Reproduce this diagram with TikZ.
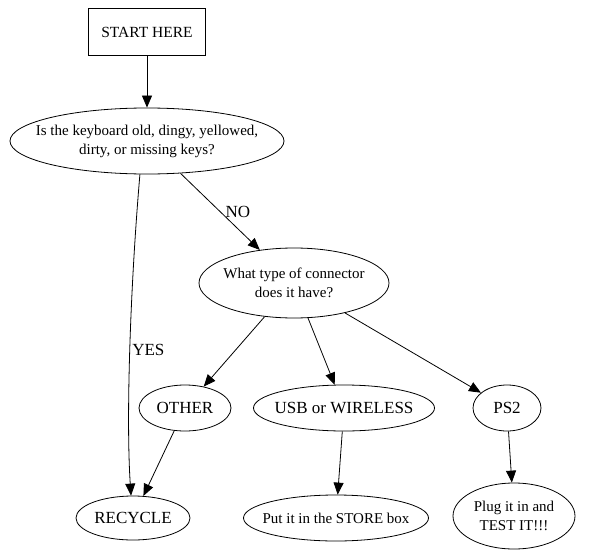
\documentclass[tikz,border=0pt]{standalone}
\usepackage{fontspec}
\setmainfont{Liberation Serif}
\usetikzlibrary{shapes.geometric,arrows.meta}

\begin{document}
\begin{tikzpicture}[
  x=1pt,y=-1pt,
  startbox/.style={rectangle,draw,inner sep=0pt,font=\fontsize{15.5}{19}\selectfont},
  question/.style={ellipse,draw,inner xsep=-200pt,inner ysep=0pt,align=center,font=\fontsize{15}{19}\selectfont},
  choice/.style={ellipse,draw,inner xsep=-200pt,inner ysep=0pt,align=center,font=\fontsize{17}{20}\selectfont},
  arr/.style={-{Triangle[length=12pt,width=10pt]},line width=0.8pt},
  edgelabel/.style={font=\fontsize{17}{20}\selectfont,inner sep=2pt},
  every path/.style={line width=0.8pt},
]
\useasboundingbox (0,0) rectangle (599,559);

% === top: start and first question ===
\node[startbox,minimum width=117pt,minimum height=47pt] (start) at (147,32) {START HERE};
\node[question,minimum width=274pt,minimum height=66pt] (old) at (147,141)
  {Is the keyboard old, dingy, yellowed,\\dirty, or missing keys?};

% === middle: connector question ===
\node[question,minimum width=190pt,minimum height=70pt] (conn) at (294,283)
  {What type of connector\\does it have?};

% Connector kinds
\node[choice,minimum width=92pt,minimum height=46pt] (other) at (185,408) {OTHER};
\node[choice,minimum width=181pt,minimum height=46pt] (usb) at (344,408) {USB or WIRELESS};
\node[choice,minimum width=68pt,minimum height=46pt] (ps2) at (507,408) {PS2};

% === bottom: what to do ===
\node[choice,minimum width=114pt,minimum height=44pt] (recycle) at (133,518) {RECYCLE};
\node[question,minimum width=185pt,minimum height=46pt] (store) at (336,518) {Put it in the STORE box};
\node[question,minimum width=122pt,minimum height=66pt] (plug) at (514,516)
  {Plug it in and\\TEST IT!!!};

% Edges
\draw[arr] (start) -- (old);
\draw[arr] (old) -- node[edgelabel,midway,right=3pt] {NO} (conn);
\draw[arr] (old.258) .. controls (130,290) and (126,420) ..
  node[edgelabel,midway,right] {YES} (recycle.95);

\draw[arr] (conn) -- (other);
\draw[arr] (conn) -- (usb);
\draw[arr] (conn) -- (ps2);

\draw[arr] (other) -- (recycle);
\draw[arr] (usb) -- (store);
\draw[arr] (ps2) -- (plug);

\end{tikzpicture}
\end{document}
